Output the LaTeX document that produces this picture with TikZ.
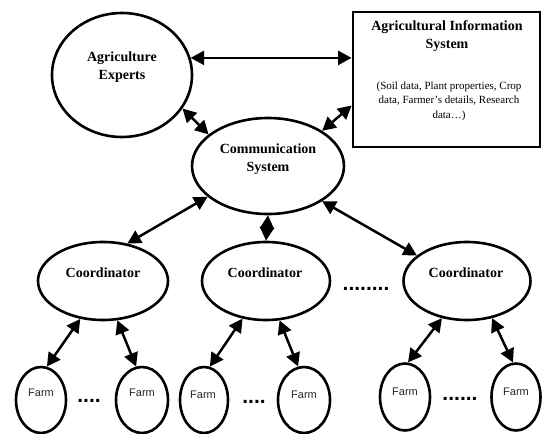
\documentclass[tikz,border=0pt]{standalone}
\usepackage{fontspec}
\setmainfont{Liberation Serif}
\newfontfamily\farmfont{Liberation Sans}
\usetikzlibrary{shapes.geometric,arrows.meta}
\tikzset{
  ell/.style={draw, ellipse, line width=2.6pt, inner sep=0pt},
  lbl/.style={font=\bfseries\fontsize{14}{18}\selectfont, align=center, inner sep=0pt},
  small/.style={font=\fontsize{11}{14.5}\selectfont, align=center, inner sep=0pt},
  farmtxt/.style={font=\farmfont\fontsize{11}{13}\selectfont, text=black!85, inner sep=0pt},
  dots/.style={font=\farmfont\bfseries\fontsize{21}{21}\selectfont, inner sep=0pt, anchor=base},
  arr/.style={line width=2.5pt, {Triangle[length=13.5pt,width=14pt]}-{Triangle[length=13.5pt,width=14pt]}},
  infobox/.style={draw, line width=2.8pt, inner sep=0pt}
}
\begin{document}
\begin{tikzpicture}[x=1pt,y=-1pt]
\useasboundingbox (0,0) rectangle (542,434);
% top level
\node[ell, minimum width=140pt, minimum height=124pt] (exp) at (122,75) {};
\node[lbl] (expt) at (122,67) {Agriculture\\Experts};
\node[infobox, minimum width=187pt, minimum height=135pt] (box) at (446.5,79.5) {};
\node[lbl] (boxt) at (447,36.5) {Agricultural Information\\System};
\node[small] (boxd) at (449,101) {(Soil data, Plant properties, Crop\\data, Farmer's details, Research\\data\dots)};
\node[ell, minimum width=152pt, minimum height=96pt] (comm) at (268,166) {};
\node[lbl] (commt) at (268,159) {Communication\\System};
% coordinators
\node[ell, minimum width=130pt, minimum height=78pt] (c1) at (103,281) {};
\node[ell, minimum width=128pt, minimum height=78pt] (c2) at (266,281) {};
\node[ell, minimum width=127pt, minimum height=78pt] (c3) at (467,281) {};
\node[lbl] (c1t) at (103,273) {Coordinator};
\node[lbl] (c2t) at (265,273) {Coordinator};
\node[lbl] (c3t) at (466,273) {Coordinator};
% farms
\node[ell, minimum width=50pt, minimum height=66pt] (f1) at (41,400) {};
\node[ell, minimum width=52pt, minimum height=66pt] (f2) at (142,400) {};
\node[ell, minimum width=48pt, minimum height=66pt] (f3) at (204,400) {};
\node[ell, minimum width=52pt, minimum height=66pt] (f4) at (304,400) {};
\node[ell, minimum width=50pt, minimum height=67pt] (f5) at (405,397) {};
\node[ell, minimum width=49pt, minimum height=67pt] (f6) at (516,397) {};
\node[farmtxt] (f1t) at (41,393) {Farm};
\node[farmtxt] (f2t) at (142,393) {Farm};
\node[farmtxt] (f3t) at (203,395) {Farm};
\node[farmtxt] (f4t) at (304,395) {Farm};
\node[farmtxt] (f5t) at (405,392) {Farm};
\node[farmtxt] (f6t) at (516,392) {Farm};
% dots
\node[dots] (d0) at (366,290) {........};
\node[dots] (d1) at (89,402) {....};
\node[dots] (d2) at (254,403) {....};
\node[dots] (d3) at (460,400) {......};
% connectors
\draw[arr] (exp.14) -- (exp.14 -| box.west);
\draw[arr] (exp.-29) -- (comm.152);
\draw[arr] ([yshift=-26pt]box.west) -- (comm.33);
\draw[arr] (comm.207) -- (c1.57);
\draw[arr] (comm.south) -- (c2.north);
\draw[arr] (comm.-33) -- (c3.153);
\draw[arr] (c1.239) -- (f1.80);
\draw[arr] (c1.290) -- (f2.100);
\draw[arr] (c2.238) -- (f3.80);
\draw[arr] (c2.289) -- (f4.100);
\draw[arr] (c3.236) -- (f5.85);
\draw[arr] (c3.304) -- (f6.95);
\end{tikzpicture}
\end{document}
